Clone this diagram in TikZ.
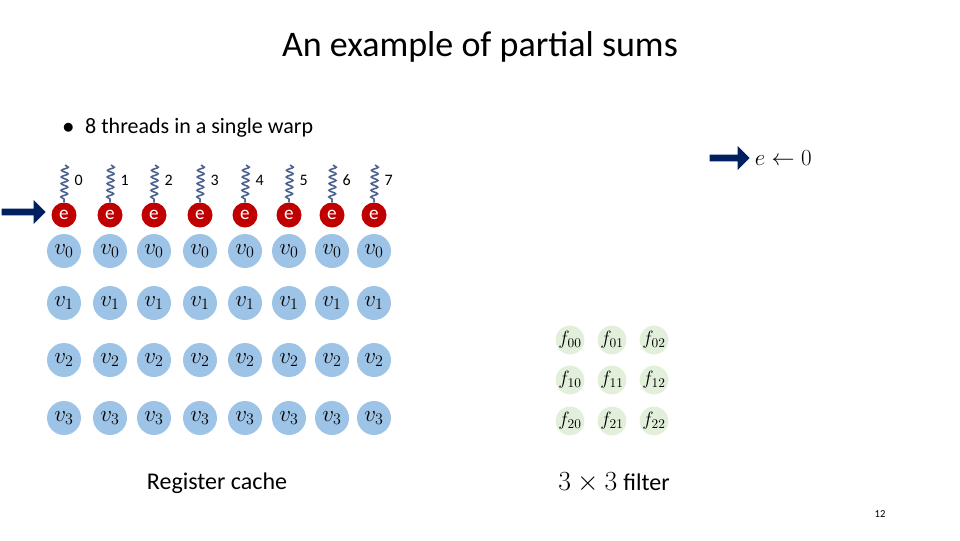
\documentclass[tikz,border=0pt]{standalone}
\usepackage{amsmath}
\usepackage{fontspec}
\setmainfont{Carlito}
\usetikzlibrary{positioning, arrows, shapes.arrows, decorations.pathmorphing}

\definecolor{regblue}{HTML}{9DC3E6}
\definecolor{entred}{HTML}{C00000}
\definecolor{navy}{HTML}{002060}
\definecolor{filtgreen}{HTML}{E2EFDA}

\begin{document}
\begin{tikzpicture}[x=0.75pt, y=-0.75pt]
        \tikzset{
          reg/.style={circle, fill=regblue, draw=none, minimum size=34pt*0.75, inner sep=0pt, font=\LARGE},
          ent/.style={circle, fill=entred, draw=none, text=white, minimum size=25pt*0.75, inner sep=0pt, font=\Large},
          filt/.style={circle, fill=filtgreen, draw=none, minimum size=24pt*0.75, inner sep=0pt, font=\Large},
          thread/.style={draw=navy!70, line width=1.2pt, decorate, decoration={snake, amplitude=2.5pt, segment length=5pt}},
          bigarrow/.style={single arrow, fill=navy, draw=none, minimum height=#1, minimum width=24pt*0.75, single arrow head extend=3pt, inner sep=1pt}
        }
        \useasboundingbox (0,0) rectangle (960,540);

        \node (title) at (480,47) {\fontsize{27}{30}\selectfont An example of partial sums};
        \node[anchor=west] (bullet) at (58,128) {\fontsize{16.5}{19}\selectfont $\bullet$\enspace 8 threads in a single warp};

        \node[bigarrow=44*0.75pt] (a_l) at (22,212) {};
        \node[bigarrow=40*0.75pt] (a_r) at (728,158) {};
        \node[anchor=west, font=\LARGE] (init) [right=0pt of a_r] {$e \leftarrow 0$};

        \foreach \i/\x in {0/64,1/110,2/154,3/200,4/245,5/289,6/332,7/374} {
          \node[ent] (e_\i) at (\x,215) {e};
          \coordinate (t_\i) at (\x+1,165);
          \draw[thread] (t_\i) -- (e_\i.north);
          \node[anchor=west, font=\large] (n_\i) at (\x+6,180) {\i};
          \foreach \r/\y in {0/251,1/303,2/360,3/418}
            \node[reg] (v_\r_\i) at (\x,\y) {$v_{\r}$};
        }

        \foreach \r/\y in {0/340,1/380,2/421}
          \foreach \c/\x in {0/570,1/612,2/654}
            \node[filt] (f_\r\c) at (\x,\y) {$f_{\r\c}$};

        \node (reg_lbl) at (217,483) {\fontsize{18}{20}\selectfont Register cache};
        \node (filt_lbl) at (614,483) {\fontsize{20}{22}\selectfont $3\times3$\ \fontsize{18}{20}\selectfont filter};
        \node (page) at (880,514) {\footnotesize 12};
    \end{tikzpicture}
\end{document}
